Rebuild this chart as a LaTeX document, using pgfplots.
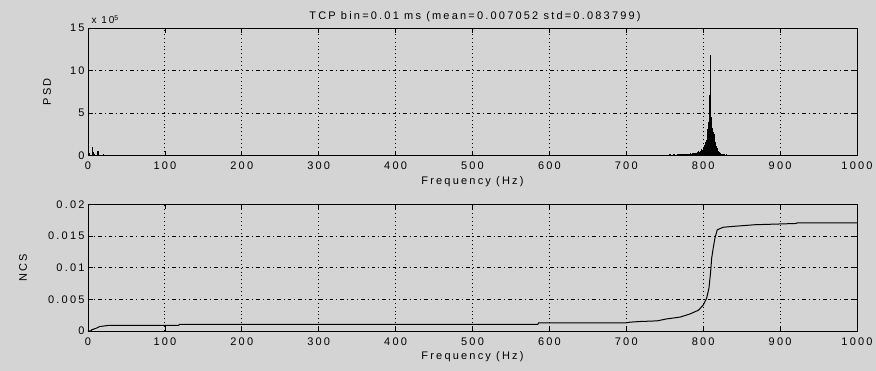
\documentclass[border=0pt]{standalone}
\usepackage{fontspec}
\setmainfont{Liberation Sans}[LetterSpace=20]
\usepackage{pgfplots}
\pgfplotsset{compat=1.18}
\definecolor{bg}{gray}{0.83}
\pgfplotsset{
  mystyle/.style={
    scale only axis, width=769pt,
    xmin=0, xmax=1000,
    axis line style={line width=0.9pt, black},
    tick align=inside,
    tick style={black, line width=0.8pt},
    major tick length=5pt,
    xtick={0,100,...,1000},
    xticklabels={0,100,200,300,400,500,600,700,800,900,1000},
    scaled ticks=false,
    xmajorgrids, ymajorgrids,
    x grid style={black, line width=0.9pt, dash pattern=on 0.9pt off 3pt},
    y grid style={black, line width=0.8pt, dash pattern=on 3.5pt off 3pt on 1pt off 3pt},
    every tick label/.append style={font=\fontsize{11}{13}\selectfont},
    xticklabel style={yshift=-3pt},
    label style={font=\fontsize{11}{13}\selectfont},
    xlabel={Frequency (Hz)},
    xlabel style={at={(axis description cs:0.5,0)}, anchor=north, yshift=-17pt},
    clip=true,
  }
}
\pgfplotstableread{
f v
2 0.35
3 0.1
6 1.0
7 0.4
8 0.15
12 0.2
13 0.5
14 0.2
20 0.25
21 0.1
748 0.05
752 0.1
754 0.05
756 0.15
757 0.1
758 0.2
760 0.1
761 0.25
762 0.15
763 0.2
765 0.1
766 0.25
767 0.2
768 0.15
769 0.25
770 0.2
771 0.1
772 0.2
773 0.15
774 0.25
775 0.2
776 0.1
777 0.2
778 0.25
779 0.15
780 0.2
781 0.25
782 0.2
783 0.3
784 0.2
785 0.25
786 0.3
787 0.2
788 0.3
789 0.25
790 0.35
791 0.3
792 0.4
793 0.3
794 0.5
795 0.4
796 0.6
797 0.5
798 0.8
799 0.7
800 1.0
801 0.9
802 1.3
803 1.6
804 1.8
805 2.6
806 3.1
807 4.0
808 7.1
809 5.2
810 11.9
811 4.6
812 3.2
813 2.8
814 2.5
815 2.0
816 1.6
817 1.1
818 0.9
819 0.6
820 0.5
821 0.4
822 0.35
823 0.3
824 0.25
825 0.25
826 0.15
827 0.2
828 0.15
829 0.1
830 0.15
831 0.05
832 0.1
834 0.05
838 0.05
}\psd
\pgfplotstableread{
f v
0 0
4 0
5 0.0002
10 0.0004
15 0.0007
28 0.0009
118 0.0009
119 0.00105
585 0.00105
586 0.0013
700 0.0013
705 0.0014
718 0.00150
740 0.0016
752 0.0019
770 0.0022
783 0.0027
794 0.0033
800 0.0041
804.5 0.0052
807.5 0.0068
809.7 0.0094
811 0.0115
813 0.0131
815.3 0.0147
818.3 0.0160
826 0.0164
835 0.0165
867 0.0168
921 0.0170
922 0.0171
1000 0.0171
}\ncs
\begin{document}
\begin{tikzpicture}[x=1pt,y=1pt]
\useasboundingbox (0,0) rectangle (876,371);
\fill[bg] (0,0) rectangle (876,371);
\begin{axis}[mystyle, at={(88pt,215.3pt)}, anchor=south west,
  height=127.5pt, ymin=0, ymax=15,
  ytick={0,5,10,15}, yticklabels={0,5,10,15},
  ylabel={PSD},
  ylabel style={at={(axis description cs:0,0.5)}, anchor=center, rotate=0, yshift=41pt},
  ]
\addplot[ycomb, black, line width=1.1pt] table[x=f,y=v] {\psd};
\end{axis}
\begin{axis}[mystyle, at={(88pt,40pt)}, anchor=south west,
  height=126.5pt, ymin=0, ymax=0.02,
  ytick={0,0.005,0.01,0.015,0.02},
  yticklabels={0,0.005,0.01,0.015,0.02},
  ylabel={NCS},
  ylabel style={at={(axis description cs:0,0.5)}, anchor=center, rotate=0, yshift=65pt},
  ]
\addplot[black, line width=1pt] table[x=f,y=v] {\ncs};
\end{axis}
\node[anchor=base west, font=\fontsize{10}{12}\selectfont] at (88,347) {x 10\raisebox{0.7ex}{\fontsize{7}{8}\selectfont 5}};
\node[anchor=base, font=\fontsize{11}{13}\selectfont] at (475,351) {TCP bin=0.01 ms (mean=0.007052 std=0.083799)};
\end{tikzpicture}
\end{document}
